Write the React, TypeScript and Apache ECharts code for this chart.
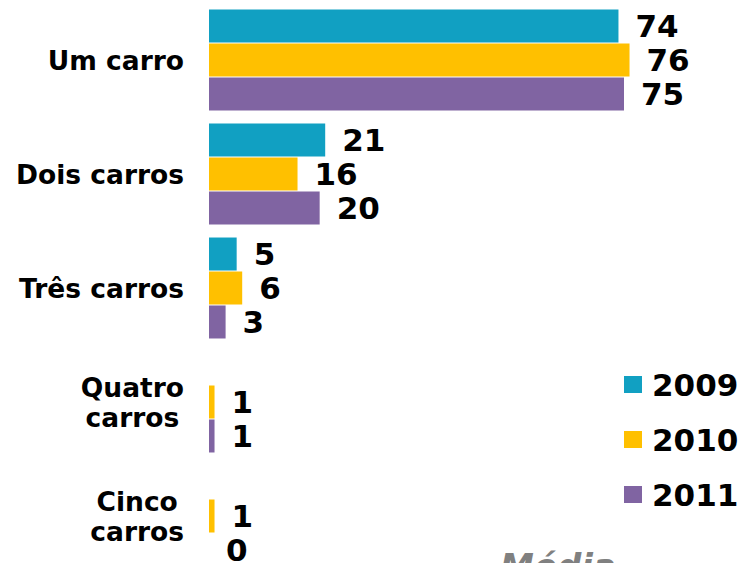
import React, { useEffect, useRef } from "react";
import * as echarts from "echarts";

const categories = ["Um carro", "Dois carros", "Três carros", "Quatro\ncarros", "Cinco\ncarros"];
const seriesNames = ["2009", "2010", "2011"];
const values2009: (number | null)[] = [74, 21, 5, null, null];
const values2010: (number | null)[] = [76, 16, 6, 1, 1];
const values2011: (number | null)[] = [75, 20, 3, 1, 0];
const colors = ["#11A0C2", "#FFC000", "#8064A2"];
const footerText = "Média";

const FONT = "'DejaVu Sans', Verdana, sans-serif";

export default function App() {
  const ref = useRef<HTMLDivElement>(null);
  useEffect(() => {
    if (!ref.current) return;
    const chart = echarts.init(ref.current, undefined, { renderer: "svg" });
    const allValues = [values2009, values2010, values2011];
    const series = seriesNames.map((name, i) => ({
      name,
      type: "bar" as const,
      data: allValues[i],
      barWidth: 33,
      barGap: "3%",
      itemStyle: { color: colors[i] },
      label: {
        show: true,
        position: "right" as const,
        distance: 17,
        fontSize: 31,
        fontWeight: "bold" as const,
        fontFamily: FONT,
        color: "#000",
      },
    }));
    chart.setOption({
      animation: false,
      backgroundColor: "#fff",
      grid: {
        left: 209,
        top: 3,
        width: 498,
        height: 570,
        containLabel: false,
        outerBoundsMode: "none",
      },
      xAxis: {
        type: "value",
        min: 0,
        max: 90,
        show: false,
        splitLine: { show: false },
      },
      yAxis: {
        type: "category",
        data: categories,
        inverse: true,
        axisLine: { show: false },
        axisTick: { show: false },
        axisLabel: {
          margin: 25,
          fontSize: 26.5,
          fontWeight: "bold",
          fontFamily: FONT,
          color: "#000",
          formatter: (v: string) =>
            v
              .split("\n")
              .map((s) => `{c|${s}}`)
              .join("\n"),
          rich: {
            c: {
              align: "center",
              fontSize: 26.5,
              fontWeight: "bold",
              fontFamily: FONT,
              color: "#000",
              lineHeight: 30,
            },
          },
        },
      },
      legend: {
        data: seriesNames,
        orient: "vertical",
        left: 624,
        top: 369,
        padding: 0,
        itemWidth: 18,
        itemHeight: 17,
        itemGap: 24,
        icon: "rect",
        textStyle: {
          fontSize: 31,
          fontWeight: "bold",
          fontFamily: FONT,
          color: "#000",
          lineHeight: 31,
          padding: [0, 0, 0, 5],
        },
      },
      graphic: [
        {
          type: "text",
          left: 500,
          top: 549,
          style: {
            text: footerText,
            fontSize: 34,
            fontWeight: "bold",
            fontStyle: "italic",
            fontFamily: FONT,
            fill: "#808080",
          },
        },
      ],
      series,
    });
    return () => chart.dispose();
  }, []);
  return (
    <div
      ref={ref}
      style={{ position: "fixed", left: 0, top: 0, width: 742, height: 563 }}
    />
  );
}
